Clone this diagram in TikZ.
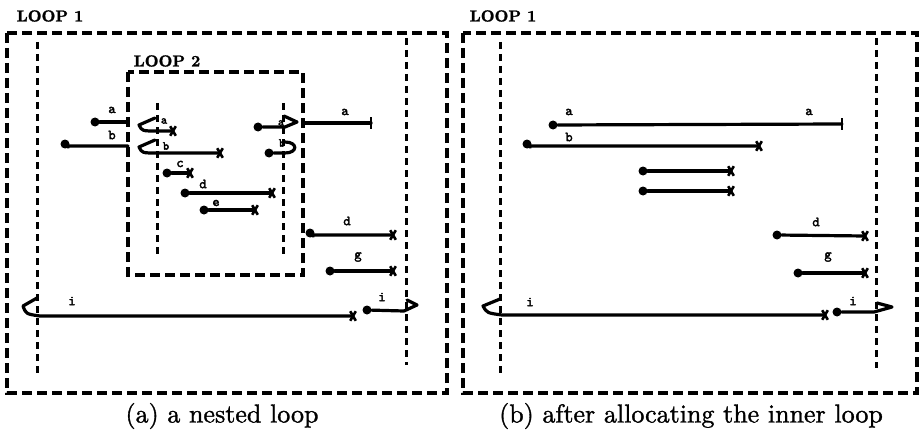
\documentclass[tikz,border=0pt]{standalone}
\usepackage{fontspec}
\newfontfamily\lblfont{lmmono10-regular.otf}[FakeBold=2.5]
\newfontfamily\capfont{lmroman10-regular.otf}[FakeBold=1.2]
\newfontfamily\loopfont{lmroman10-bold.otf}[FakeBold=1.5]
\begin{document}
\begin{tikzpicture}[x=1pt,y=-1pt,
  loopbox/.style={line width=3.5pt, dash pattern=on 10pt off 5pt},
  loopedge/.style={line width=3pt, dash pattern=on 7pt off 5pt},
  iv/.style={line width=3.2pt, line join=round, line cap=round},
  dotn/.style={circle, fill, inner sep=0pt, minimum size=9pt},
  lbl/.style={font=\lblfont\fontsize{14}{14}\selectfont, inner sep=0pt},
  slbl/.style={font=\lblfont\fontsize{12}{12}\selectfont, inner sep=0pt},
  looplbl/.style={font=\loopfont\fontsize{16}{16}\selectfont, inner sep=0pt},
  captxt/.style={font=\capfont\fontsize{26}{26}\selectfont, inner sep=0pt},
  xend/.pic={\draw[line width=2.6pt] (-2.8,-4.8) -- (2.8,4.8) (-2.8,4.8) -- (2.8,-4.8);},
  tend/.pic={\draw[line width=2.8pt] (0,-5.5) -- (0,5.5);}
]
\useasboundingbox (0,0) rectangle (920,433);

% ================= LEFT PANEL =================
\node[looplbl] (L1a) at (50,16) {LOOP 1};
\draw[loopbox] (7,33) rectangle (447,393);
\draw[loopedge] (37,42) -- (37,373);
\draw[loopedge] (406,38) -- (406,365);
\node[looplbl] (L2) at (167,61) {LOOP 2};
\draw[loopbox] (128,72) rectangle (303,275);
\draw[loopedge] (157,103) -- (157,258);
\draw[loopedge] (283,103) -- (283,258);

% a entering
\node[dotn] (a1s) at (95,122) {};
\coordinate (a1e) at (128,122);
\draw[iv] (a1s) -- (a1e);
\node[lbl] (a1l) at (112,110) {a};
% b entering
\node[dotn] (b1s) at (65,144) {};
\coordinate (b1e) at (128,146);
\draw[iv] (b1s) -- (67,146) -- (b1e);
\node[lbl] (b1l) at (112,135) {b};

% inner a (loop-back from top)
\coordinate (a2h) at (155,118);
\coordinate (a2e) at (173,131);
\draw[iv] (a2h) -- (139,125) .. controls (142,131) .. (157,131) -- (a2e);
\pic at (a2e) {xend};
\node[slbl] (a2l) at (164,121) {a};
% inner b
\coordinate (b2h) at (155,140);
\coordinate (b2e) at (220,153);
\draw[iv] (b2h) -- (139,147) .. controls (142,153) .. (157,153) -- (b2e);
\pic at (b2e) {xend};
\node[slbl] (b2l) at (166,146) {b};

% c
\node[dotn] (cs) at (167,173) {};
\coordinate (ce) at (190,173);
\draw[iv] (cs) -- (ce);
\pic at (ce) {xend};
\node[lbl] (cl) at (180,164) {c};
% d inner
\node[dotn] (d2s) at (185,193) {};
\coordinate (d2e) at (272,193);
\draw[iv] (d2s) -- (d2e);
\pic at (d2e) {xend};
\node[lbl] (d2l) at (203,184) {d};
% e
\node[dotn] (es) at (204,210) {};
\coordinate (ee) at (255,210);
\draw[iv] (es) -- (ee);
\pic at (ee) {xend};
\node[lbl] (el) at (216,203) {e};

% inner right a (loop-back)
\node[dotn] (a3s) at (258,127) {};
\coordinate (a3h) at (284,116);
\draw[iv] (a3s) -- (285,127) -- (297,122) -- (a3h);
\node[slbl] (a3l) at (281,123) {a};
% inner right b
\node[dotn] (b3s) at (269,153) {};
\coordinate (b3h) at (285,142);
\draw[iv] (b3s) -- (285,153) .. controls (298,153) and (298,142) .. (b3h);
\node[slbl] (b3l) at (282,143) {b};

% outer a
\coordinate (a4s) at (303,123);
\coordinate (a4e) at (371,123);
\draw[iv] (a4s) -- (a4e);
\pic at (a4e) {tend};
\node[lbl] (a4l) at (345,112) {a};
% outer d
\node[dotn] (d4s) at (310,233) {};
\coordinate (d4e) at (393,235);
\draw[iv] (d4s) -- (312,235) -- (d4e);
\pic at (d4e) {xend};
\node[lbl] (d4l) at (347,221) {d};
% g
\node[dotn] (g4s) at (330,271) {};
\coordinate (g4e) at (393,271);
\draw[iv] (g4s) -- (g4e);
\pic at (g4e) {xend};
\node[lbl] (g4l) at (358,257) {g};

% i long
\coordinate (i1h) at (37,298);
\coordinate (i1e) at (353,316);
\draw[iv] (i1h) -- (23,306) .. controls (26,314) .. (40,316) -- (i1e);
\pic at (i1e) {xend};
\node[lbl] (i1l) at (72,301) {i};
% i right
\node[dotn] (i2s) at (367,310) {};
\coordinate (i2h) at (407,300);
\draw[iv] (i2s) -- (404,311) -- (417,305) -- (i2h);
\node[lbl] (i2l) at (382,297) {i};

\node[captxt] (capa) at (222,416) {(a) a nested loop};

% ================= RIGHT PANEL =================
\node[looplbl] (L1b) at (503,16) {LOOP 1};
\draw[loopbox] (463,33) rectangle (917,393);
\draw[loopedge] (500,42) -- (500,375);
\draw[loopedge] (876,38) -- (876,368);

% a
\node[dotn] (ras) at (553,125) {};
\coordinate (rae) at (842,124);
\draw[iv] (ras) -- (rae);
\pic at (rae) {tend};
\node[lbl] (ral1) at (569,112) {a};
\node[lbl] (ral2) at (809,112) {a};
% b
\node[dotn] (rbs) at (527,144) {};
\coordinate (rbe) at (759,146);
\draw[iv] (rbs) -- (529,146) -- (rbe);
\pic at (rbe) {xend};
\node[lbl] (rbl) at (569,137) {b};
% two unlabeled
\node[dotn] (rus) at (643,171) {};
\coordinate (rue) at (731,171);
\draw[iv] (rus) -- (rue);
\pic at (rue) {xend};
\node[dotn] (rvs) at (643,191) {};
\coordinate (rve) at (731,191);
\draw[iv] (rvs) -- (rve);
\pic at (rve) {xend};
% d
\node[dotn] (rds) at (777,235) {};
\coordinate (rde) at (865,236);
\draw[iv] (rds) -- (rde);
\pic at (rde) {xend};
\node[lbl] (rdl) at (816,222) {d};
% g
\node[dotn] (rgs) at (798,273) {};
\coordinate (rge) at (865,273);
\draw[iv] (rgs) -- (rge);
\pic at (rge) {xend};
\node[lbl] (rgl) at (828,257) {g};
% i long
\coordinate (ri1h) at (500,299);
\coordinate (ri1e) at (825,315);
\draw[iv] (ri1h) -- (483,306) .. controls (487,313) .. (502,315) -- (ri1e);
\pic at (ri1e) {xend};
\node[lbl] (ri1l) at (530,302) {i};
% i right
\node[dotn] (ri2s) at (837,312) {};
\coordinate (ri2h) at (877,303);
\draw[iv] (ri2s) -- (874,312) -- (892,307) -- (ri2h);
\node[lbl] (ri2l) at (853,301) {i};

\node[captxt] (capb) at (691,416) {(b) after allocating the inner loop};
\end{tikzpicture}
\end{document}
